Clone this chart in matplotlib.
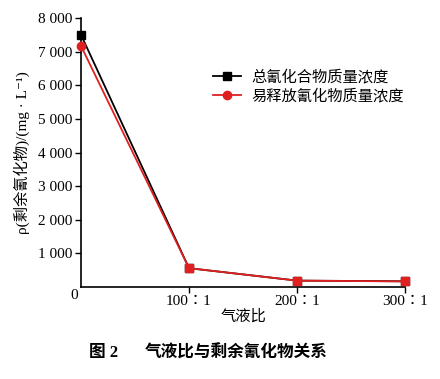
import matplotlib
matplotlib.use("Agg")
import matplotlib.pyplot as plt

ratios = [0, 100, 200, 300]
tick_labels = ["100：1", "200：1", "300：1"]
total_cn = [7500, 560, 190, 170]
release_cn = [7170, 560, 190, 165]
yticks = [1000, 2000, 3000, 4000, 5000, 6000, 7000, 8000]
ytick_labels = ["1 000", "2 000", "3 000", "4 000", "5 000", "6 000", "7 000", "8 000"]
series_names = ["总氰化合物质量浓度", "易释放氰化物质量浓度"]

FAM = ["Liberation Serif", "Noto Sans CJK SC", "DejaVu Sans"]
FAM_TC = ["Liberation Serif", "Noto Sans CJK TC", "DejaVu Sans"]
plt.rcParams['font.family'] = FAM

fig = plt.figure(figsize=(4.4, 3.79), dpi=100)
ax = fig.add_axes([81/440, 1-287/379, (405-81)/440, (287-18)/379])

ax.plot(ratios, total_cn, color="black", lw=1.3, marker="s", ms=6,
        clip_on=False, zorder=3, label=series_names[0])
ax.plot(ratios, release_cn, color="#e02020", lw=1.3, marker="o", ms=6,
        markevery=[0], clip_on=False, zorder=4, label=series_names[1])
ax.plot(ratios[1:], release_cn[1:], color="#e02020", lw=0, marker="s", ms=6,
        clip_on=False, zorder=5)

ax.set_xlim(0, 300)
ax.set_ylim(0, 8000)
ax.set_xticks(ratios[1:])
ax.set_xticklabels(tick_labels, fontsize=11, family=FAM_TC)
ax.set_yticks(yticks)
ax.set_yticklabels(ytick_labels, fontsize=11)
ax.tick_params(direction="out", length=4, width=1, pad=2)
for s in ["top", "right"]:
    ax.spines[s].set_visible(False)
for s in ["left", "bottom"]:
    ax.spines[s].set_linewidth(1.2)

ax.annotate("0", xy=(0, 0), xycoords="data", xytext=(-5, -6),
            textcoords="offset points", ha="center", va="center", fontsize=11)

ax.set_xlabel("气液比", fontsize=11, labelpad=1)
ax.set_ylabel("ρ(剩余氰化物)/(mg · L⁻¹)", fontsize=11, labelpad=6)

leg = ax.legend(loc="upper left", bbox_to_anchor=(0.39, 0.83), frameon=False,
                fontsize=11, handlelength=1.8, handletextpad=0.7,
                borderaxespad=0, labelspacing=0.25)

fig.text(89/440, 1-353/379, "图 2", fontsize=12, fontweight="bold",
         ha="left", va="center")
fig.text(145/440, 1-353/379, "气液比与剩余氰化物关系", fontsize=12,
         fontweight="bold", ha="left", va="center")

fig.savefig("out.png", dpi=100)
